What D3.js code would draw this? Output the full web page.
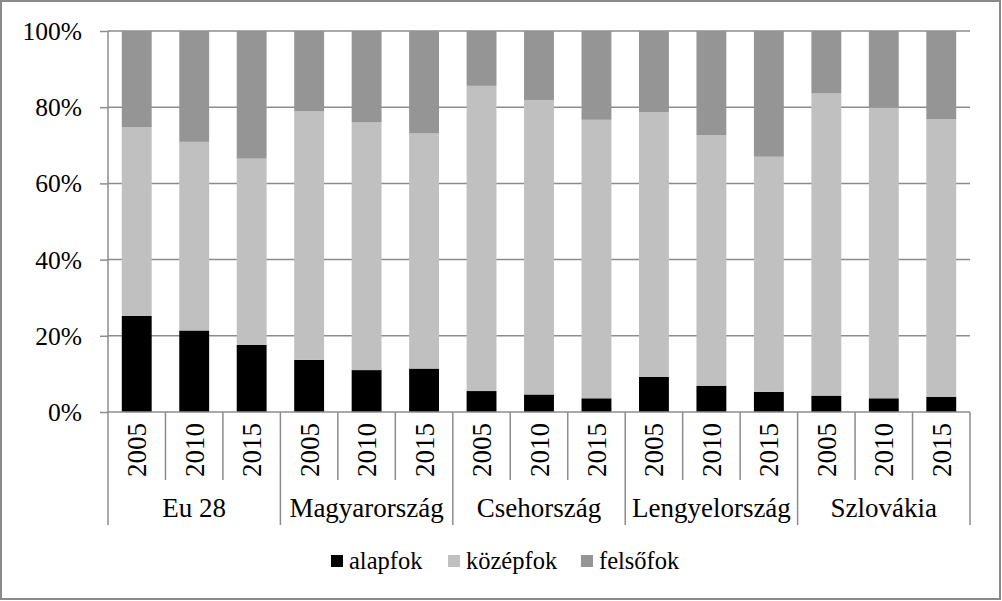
<!DOCTYPE html>
<html><head><meta charset="utf-8">
<script src="https://cdn.jsdelivr.net/npm/d3@7"></script>
<style>body{margin:0;background:#fff}svg{display:block}svg text{font-family:"Liberation Serif","Times New Roman",serif !important;fill:#000}</style>
</head><body>
<svg id="c" width="1002" height="601"></svg>
<script>
const countries = ["Eu 28","Magyarország","Csehország","Lengyelország","Szlovákia"];
const years = ["2005","2010","2015"];
const seriesNames = ["alapfok","középfok","felsőfok"];
const seriesColors = ["#000000","#c0c0c0","#959595"];
// values per country×year, in order of countries then years
const alapfok  = [25.2,21.4,17.6, 13.7,11.0,11.4, 5.5,4.6,3.6, 9.2,6.9,5.3, 4.3,3.6,4.0];
const kozepfok = [49.5,49.5,48.9, 65.2,65.0,61.7, 80.1,77.3,73.1, 69.5,65.8,61.7, 79.3,76.3,72.9];
const felsofok = [25.3,29.1,33.5, 21.1,24.0,26.9, 14.4,18.1,23.3, 21.3,27.3,33.0, 16.4,20.1,23.1];
const yTicks = [0,20,40,60,80,100];

const svg = d3.select("#c");
const W=1002,H=601;
const m = {l:108, r:970, t:31, b:412};

svg.append("rect").attr("x",1).attr("y",1).attr("width",W-3).attr("height",H-3)
  .attr("fill","#fff").attr("stroke","#8a8a8a").attr("stroke-width",2);

const keys = [];
countries.forEach(c=>years.forEach(y=>keys.push(c+"|"+y)));
const rows = keys.map((k,i)=>({key:k, alapfok:alapfok[i], "középfok":kozepfok[i], "felsőfok":felsofok[i]}));

const x = d3.scaleBand().domain(keys).range([m.l,m.r]).paddingInner(0.48).paddingOuter(0.24);
const y = d3.scaleLinear().domain([0,100]).range([m.b,m.t]);

// gridlines
svg.append("g").selectAll("line").data(yTicks.slice(1)).join("line")
  .attr("x1",m.l).attr("x2",m.r).attr("y1",d=>y(d)).attr("y2",d=>y(d))
  .attr("stroke","#8c8c8c").attr("stroke-width",1.5);

// stacked bars
const stack = d3.stack().keys(seriesNames)(rows);
svg.append("g").selectAll("g").data(stack).join("g")
  .attr("fill",(d,i)=>seriesColors[i])
  .selectAll("rect").data(d=>d).join("rect")
  .attr("x",d=>x(d.data.key)).attr("width",x.bandwidth())
  .attr("y",d=>y(d[1])).attr("height",d=>y(d[0])-y(d[1]));

// y axis
const ya = svg.append("g").attr("transform",`translate(${m.l},0)`)
  .call(d3.axisLeft(y).tickValues(yTicks).tickFormat(d=>d+"%").tickSize(8).tickPadding(18));
ya.select(".domain").attr("stroke","#8c8c8c").attr("stroke-width",1.5).attr("d",`M0,${m.t}V${m.b}`);
ya.selectAll(".tick line").attr("stroke","#8c8c8c").attr("stroke-width",1.5);
ya.selectAll(".tick text").attr("font-size",25.5).style("font-size","25.5px").attr("dy","0.33em");

// x axis baseline
svg.append("line").attr("x1",m.l).attr("x2",m.r).attr("y1",m.b).attr("y2",m.b)
  .attr("stroke","#8c8c8c").attr("stroke-width",1.5);

// separators
const sepG = svg.append("g").attr("stroke","#8c8c8c").attr("stroke-width",1.5);
for(let i=0;i<=keys.length;i++){
  const xx = m.l + i*(m.r-m.l)/keys.length;
  const isGroup = i%years.length===0;
  sepG.append("line").attr("x1",xx).attr("x2",xx).attr("y1",m.b).attr("y2",isGroup?525:480);
}

// year labels
svg.append("g").selectAll("text").data(keys).join("text")
  .attr("transform",d=>`translate(${x(d)+x.bandwidth()/2+9.5},423) rotate(-90)`)
  .attr("text-anchor","end").style("font-size","27px")
  .text(d=>d.split("|")[1]);

// country labels
const gw = (m.r-m.l)/countries.length;
svg.append("g").selectAll("text").data(countries).join("text")
  .attr("x",(d,i)=>m.l+gw*(i+0.5)).attr("y",517)
  .attr("text-anchor","middle").style("font-size","27px")
  .text(d=>d);

// legend
const legX = [331,448,581];
const lg = svg.append("g");
seriesNames.forEach((s,i)=>{
  lg.append("rect").attr("x",legX[i]).attr("y",555).attr("width",12).attr("height",12).attr("fill",seriesColors[i]);
  lg.append("text").attr("x",legX[i]+18).attr("y",569).style("font-size","24.5px").text(s);
});
</script>
</body></html>
